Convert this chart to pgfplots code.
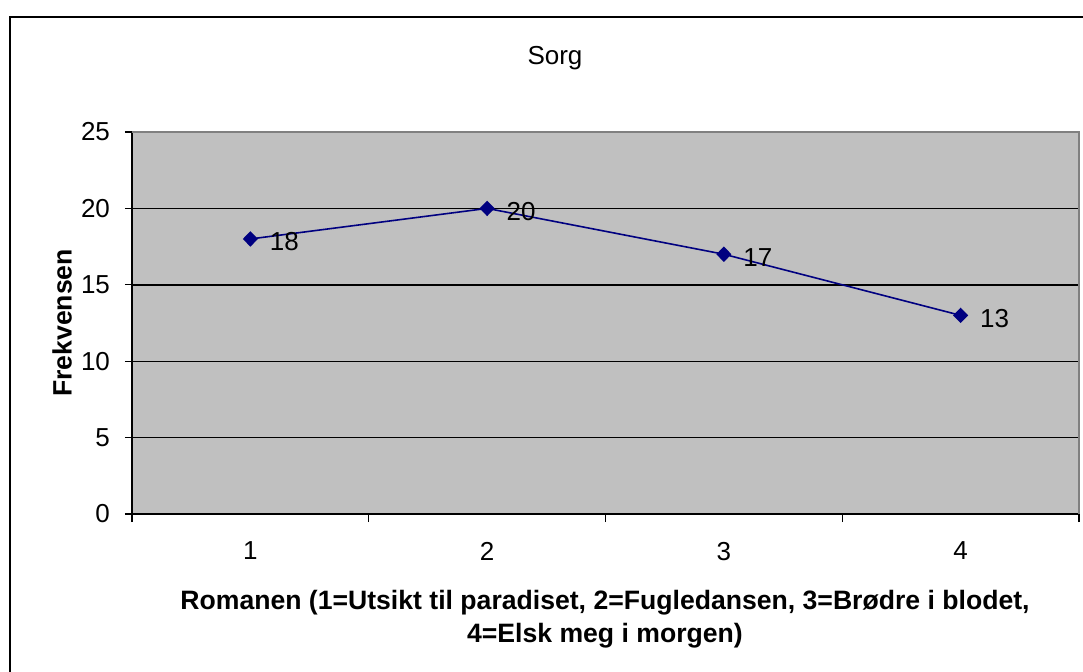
\documentclass[border=0pt]{standalone}
\usepackage{pgfplots}
\pgfplotsset{compat=1.18}
\usepackage{fontspec}
\setmainfont{Liberation Sans}
\definecolor{plotgray}{HTML}{C0C0C0}
\definecolor{navy}{HTML}{000080}

\begin{document}
\begin{tikzpicture}[x=0.5pt,y=0.5pt]
\path[use as bounding box] (0,0) rectangle (1083,671);
\draw[line width=0.7pt] (10,-10) rectangle (1095,654);
\begin{axis}[
  at={(66pt,78.5pt)}, anchor=south west,
  scale only axis, width=473.5pt, height=191pt,
  xmin=0.5, xmax=4.5, ymin=0, ymax=25,
  ytick={0,5,...,25},
  xtick={1,2,3,4},
  minor xtick={0.5,1.5,2.5,3.5,4.5},
  axis background/.style={fill=plotgray},
  axis lines*=left,
  axis line style={black, line width=0.8pt},
  ymajorgrids, major grid style={black, line width=0.7pt},
  tick align=outside,
  major x tick style={draw=none},
  minor tick length=4pt, major tick length=3.5pt,
  tick style={black, line width=0.6pt},
  ticklabel style={font=\fontsize{13}{15}\selectfont},
  /pgf/number format/assume math mode=true,
  xticklabel style={yshift=-7pt},
  yticklabel style={xshift=-4pt},
  clip=false,
]
\draw[gray, line width=0.6pt] (rel axis cs:0,1) -- (rel axis cs:1,1) -- (rel axis cs:1,0);
\addplot[navy, line width=0.8pt, mark=diamond*, mark size=3.3pt,
  mark options={xscale=1.3},
  nodes near coords,
  every node near coord/.append style={black, anchor=west, xshift=6pt, yshift=-1.5pt,
    font=\fontsize{13}{15}\selectfont}]
  coordinates {(1,18) (2,20) (3,17) (4,13)};
\end{axis}
\node[font=\fontsize{13}{15}\selectfont] at (555,613) {Sorg};
\node[rotate=90, font=\bfseries\fontsize{13.3}{15}\selectfont] at (62,348) {Frekvensen};
\node[align=center, font=\bfseries\fontsize{13.3}{16.5}\selectfont] at (605,52)
  {Romanen (1=Utsikt til paradiset, 2=Fugledansen, 3=Brødre i blodet,\\4=Elsk meg i morgen)};
\end{tikzpicture}
\end{document}
